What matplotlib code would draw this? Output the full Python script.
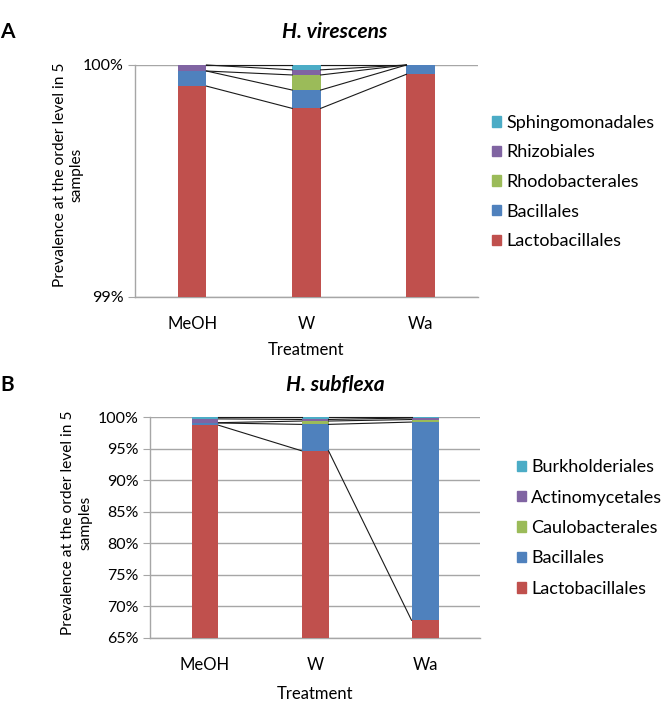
import matplotlib
matplotlib.use('Agg')
import matplotlib.pyplot as plt
from matplotlib.patches import Patch
from matplotlib.ticker import FuncFormatter
import numpy as np

plt.rcParams['font.family'] = ['Lato', 'DejaVu Sans']

treatments = ['MeOH', 'W', 'Wa']

# Panel A - H. virescens (percent of reads)
orders_a = ['Lactobacillales', 'Bacillales', 'Rhodobacterales', 'Rhizobiales', 'Sphingomonadales']
values_a = [
    [99.909, 99.813, 99.960],   # Lactobacillales
    [0.065, 0.079, 0.040],      # Bacillales
    [0.000, 0.065, 0.000],      # Rhodobacterales
    [0.026, 0.022, 0.000],      # Rhizobiales
    [0.000, 0.021, 0.000],      # Sphingomonadales
]

# Panel B - H. subflexa
orders_b = ['Lactobacillales', 'Bacillales', 'Caulobacterales', 'Actinomycetales', 'Burkholderiales']
values_b = [
    [98.70, 94.65, 67.80],
    [0.35, 4.18, 31.40],
    [0.05, 0.53, 0.40],
    [0.60, 0.25, 0.25],
    [0.30, 0.39, 0.15],
]

colors = ['#C0504D', '#4F81BD', '#9BBB59', '#8064A2', '#4BACC6']
grid_col = '#A6A6A6'

fig = plt.figure(figsize=(6.67, 7.11), dpi=100)
ax_a = fig.add_axes([0.2024, 0.5823, 0.514, 0.3263])
ax_b = fig.add_axes([0.2249, 0.1027, 0.4948, 0.3108])


def draw_panel(ax, names, values, ylim, yticks, width, xpad, lpad, ylab_xy):
    x = np.arange(len(treatments))
    bottom = np.zeros(len(treatments))
    tops = []
    for name, vals, c in zip(names, values, colors):
        vals = np.array(vals)
        ax.bar(x, vals, width=width, bottom=bottom, color=c, label=name, zorder=3)
        bottom = bottom + vals
        tops.append(bottom.copy())
    # series lines between the bars
    for t in tops:
        for i in range(len(x) - 1):
            ax.plot([x[i] + width / 2, x[i + 1] - width / 2], [t[i], t[i + 1]],
                    color='#1a1a1a', lw=0.8, zorder=4, clip_on=False)
    ax.set_xlim(-0.5, len(x) - 0.5)
    ax.set_ylim(*ylim)
    ax.set_yticks(yticks)
    ax.yaxis.set_major_formatter(FuncFormatter(lambda v, p: f'{v:.0f}%'))
    ax.set_xticks(x)
    ax.set_xticklabels(treatments, fontsize=12)
    ax.tick_params(axis='x', length=0, pad=xpad)
    ax.tick_params(axis='y', length=5, color=grid_col, labelsize=11.5, pad=3)
    ax.grid(axis='y', color=grid_col, lw=1, zorder=0)
    for s in ['top', 'right']:
        ax.spines[s].set_visible(False)
    for s in ['left', 'bottom']:
        ax.spines[s].set_color(grid_col)
        ax.spines[s].set_linewidth(1)
    ax.set_xlabel('Treatment', fontsize=12, labelpad=lpad)
    ax.set_ylabel('Prevalence at the order level in 5\nsamples', fontsize=11.2,
                  linespacing=1.3)
    ax.yaxis.set_label_coords(*ylab_xy)
    handles = [Patch(color=c, label=n) for n, c in zip(names, colors)][::-1]
    return handles


h_a = draw_panel(ax_a, orders_a, values_a, (99, 100), [99, 100], 0.25, 14, 7, (-0.149, 0.525))
h_b = draw_panel(ax_b, orders_b, values_b, (65, 100), np.arange(65, 101, 5), 0.245, 14, 9,
                 (-0.175, 0.52))

ax_a.legend(handles=h_a, loc='center left', bbox_to_anchor=(0.7376, 0.744),
            bbox_transform=fig.transFigure, frameon=False, fontsize=13,
            borderaxespad=0, borderpad=0,
            handlelength=0.5, handleheight=0.5, handletextpad=0.3, labelspacing=0.75)
ax_b.legend(handles=h_b, loc='center left', bbox_to_anchor=(0.775, 0.2574),
            bbox_transform=fig.transFigure, frameon=False, fontsize=13,
            borderaxespad=0, borderpad=0,
            handlelength=0.5, handleheight=0.5, handletextpad=0.3, labelspacing=0.8)

fig.text(0.502, 0.955, 'H. virescens', fontsize=15, fontweight='bold', style='italic',
         ha='center', va='center')
fig.text(0.502, 0.458, 'H. subflexa', fontsize=15, fontweight='bold', style='italic',
         ha='center', va='center')
fig.text(0.0, 0.955, 'A', fontsize=15, fontweight='bold', ha='left', va='center')
fig.text(0.0, 0.458, 'B', fontsize=15, fontweight='bold', ha='left', va='center')

fig.savefig('out.png', dpi=100)
